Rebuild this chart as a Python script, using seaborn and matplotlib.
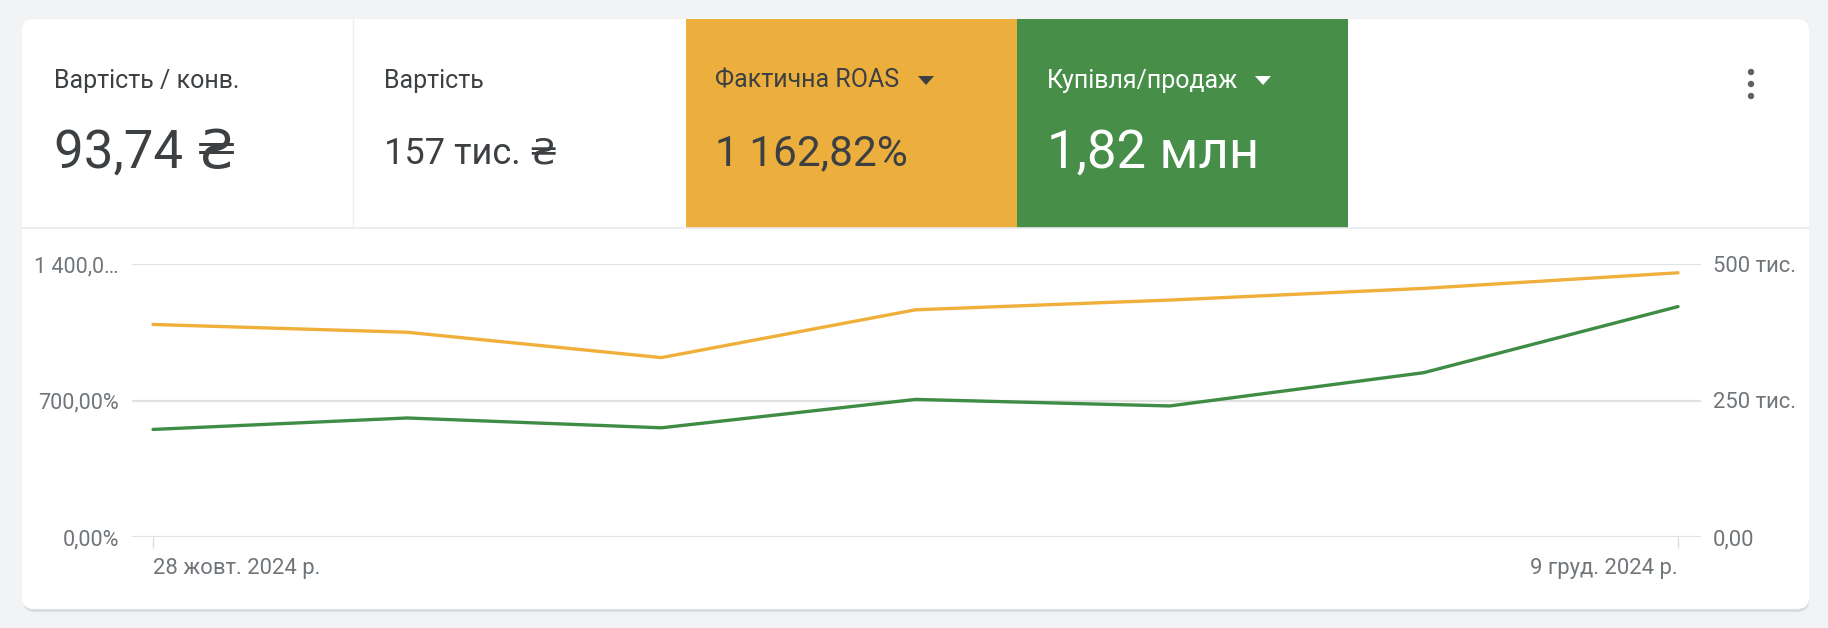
import matplotlib
matplotlib.use("Agg")
import matplotlib.pyplot as plt
import seaborn as sns
import numpy as np
import pandas as pd
from matplotlib.patches import FancyBboxPatch, Rectangle, Polygon, Circle

# дані з графіка (тижні)
week_start = ['2024-10-28', '2024-11-04', '2024-11-11', '2024-11-18',
              '2024-11-25', '2024-12-02', '2024-12-09']
roas = [1090, 1050, 920, 1165, 1215, 1275, 1355]  # %
sales = [197000, 218000, 200000, 252000, 240000, 301000, 422000]
x_labels = ['28 жовт. 2024 р.', '9 груд. 2024 р.']
left_ticks = [0, 700, 1400]
left_labels = ['0,00%', '700,00%', '1 400,0…']
right_ticks = [0, 250000, 500000]
right_labels = ['0,00', '250 тис.', '500 тис.']
card_titles = ['Вартість / конв.', 'Вартість', 'Фактична ROAS', 'Купівля/продаж']
card_values = ['93,74 ₴', '157 тис. ₴', '1 162,82%', '1,82 млн']

W, H = 1828, 628
ORANGE_BG = '#ECAE3D'
GREEN_BG = '#478E49'
ORANGE = '#F0AF3A'
GREEN = '#3F8C44'
TXT = '#3C4043'
GREY = '#70757A'

sns.set_style("white")
plt.rcParams['font.family'] = ['Roboto', 'DejaVu Sans']

df = pd.DataFrame({'week': pd.to_datetime(week_start), 'roas': roas, 'sales': sales})

fig = plt.figure(figsize=(W / 100, H / 100), dpi=100)
fig.patch.set_facecolor('#F1F3F4')

# фон-картка в пікселях
bg = fig.add_axes([0, 0, 1, 1], zorder=0)
bg.set_xlim(0, W)
bg.set_ylim(H, 0)
bg.axis('off')
bg.add_patch(FancyBboxPatch((23, 21), 1786, 591, boxstyle="round,pad=0,rounding_size=12",
                            fc='#D5D7DA', ec='none', alpha=0.8))
bg.add_patch(FancyBboxPatch((22, 19), 1787, 590, boxstyle="round,pad=0,rounding_size=12",
                            fc='white', ec='none'))
bg.add_patch(Rectangle((686, 19), 331, 209, fc=ORANGE_BG, ec='none'))
bg.add_patch(Rectangle((1017, 19), 331, 209, fc=GREEN_BG, ec='none'))
bg.plot([22, 1809], [228, 228], color='#E8EAED', lw=1.2)
bg.plot([353, 353], [19, 228], color='#EEEEEE', lw=1)

title_x = [54, 384, 715, 1047]
value_sizes = [38, 26, 30.5, 38]
value_base = [168, 163, 165, 168]
colors = [TXT, TXT, TXT, 'white']
for i in range(4):
    bg.text(title_x[i], 88, card_titles[i], fontsize=18, color=colors[i], va='baseline')
    bg.text(title_x[i], value_base[i], card_values[i], fontsize=value_sizes[i],
            color=colors[i], va='baseline')

# стрілки-випадайки
bg.add_patch(Polygon([[918, 76], [934, 76], [926, 85]], closed=True, fc=TXT, ec='none'))
bg.add_patch(Polygon([[1255, 76], [1271, 76], [1263, 85]], closed=True, fc='white', ec='none'))
for yy in [72, 84, 96]:
    bg.add_patch(Circle((1751, yy), 3.2, fc='#5F6368', ec='none'))

# сам графік
ax = fig.add_axes([132 / W, 1 - 537 / H, (1701 - 132) / W, (537 - 264) / H], zorder=1)
ax.patch.set_alpha(0)
sns.lineplot(data=df, x='week', y='roas', ax=ax, color=ORANGE, lw=2.4)
ax2 = ax.twinx()
sns.lineplot(data=df, x='week', y='sales', ax=ax2, color=GREEN, lw=2.4)

px_day = (1678 - 153) / 42.0
x0 = df['week'].iloc[0] - pd.Timedelta(days=21 / px_day)
x1 = df['week'].iloc[-1] + pd.Timedelta(days=23 / px_day)
ax.set_xlim(x0, x1)
ax.set_ylim(0, 1400)
ax2.set_ylim(0, 500000)

for a in (ax, ax2):
    for s in a.spines.values():
        s.set_visible(False)
    a.set_xlabel('')
    a.set_ylabel('')

ax.set_yticks(left_ticks)
ax.set_yticklabels(left_labels)
ax2.set_yticks(right_ticks)
ax2.set_yticklabels(right_labels)
ax.tick_params(axis='y', length=0, pad=9.5, labelsize=15.5, labelcolor=GREY)
ax2.tick_params(axis='y', length=0, pad=8.5, labelsize=15.8, labelcolor=GREY)
ax.yaxis.grid(True, color='#E2E2E2', lw=1.6)
ax.set_axisbelow(True)
for ln in ax.get_lines() + ax2.get_lines():
    ln.set_clip_on(False)

ax.set_xticks([df['week'].iloc[0], df['week'].iloc[-1]])
ax.set_xticklabels(x_labels)
ax.tick_params(axis='x', bottom=True, length=8, width=1, color='#DADCE0',
               pad=7, labelsize=15.8, labelcolor=GREY)
xt = ax.get_xticklabels()
xt[0].set_ha('left')
xt[1].set_ha('right')

fig.savefig('out.png', dpi=100, facecolor=fig.get_facecolor())
